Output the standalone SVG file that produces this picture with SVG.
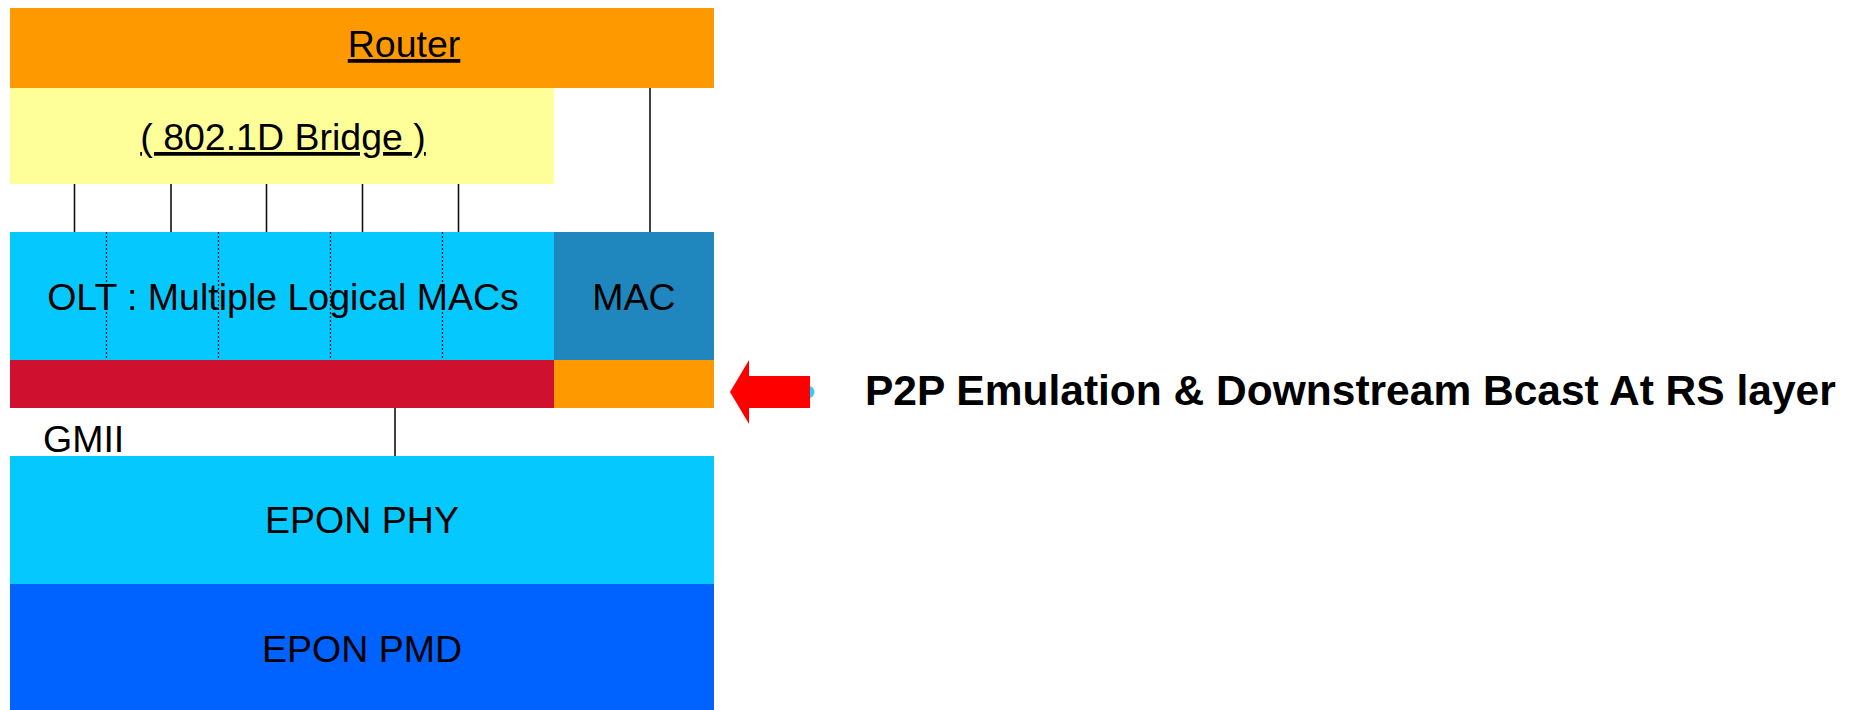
<svg xmlns="http://www.w3.org/2000/svg" width="1858" height="710" viewBox="0 0 1858 710">
<style>
text{font-family:"Liberation Sans",Arial,sans-serif;fill:#000}
.t{font-size:37.5px;text-anchor:middle}
.u{text-decoration:underline}
.conn{stroke:#111;stroke-width:1.6;fill:none}
.dot{stroke:#111;stroke-width:1.2;stroke-dasharray:2 2;fill:none}
.big{font-size:42.5px;font-weight:bold}
</style>
<rect width="1858" height="710" fill="#fff"/>
<g id="router"><rect x="10" y="8" width="704" height="80" fill="#FF9900"/><text class="t u" x="404" y="57">Router</text></g>
<g id="bridge"><rect x="10" y="88" width="544" height="96" fill="#FFFF99"/><text class="t u" x="283" y="150">( 802.1D Bridge )</text></g>
<g id="olt"><rect x="10" y="232" width="544" height="128" fill="#05C8FF"/>
<line class="dot" x1="106.5" y1="232" x2="106.5" y2="360"/><line class="dot" x1="218.5" y1="232" x2="218.5" y2="360"/><line class="dot" x1="330.5" y1="232" x2="330.5" y2="360"/><line class="dot" x1="442.5" y1="232" x2="442.5" y2="360"/>
<text class="t" x="283" y="310">OLT : Multiple Logical MACs</text></g>
<g id="mac"><rect x="554" y="232" width="160" height="128" fill="#2087BE"/><text class="t" x="634" y="310">MAC</text></g>
<g id="rs-olt"><rect x="10" y="360" width="544" height="48" fill="#CF102E"/></g>
<g id="rs-mac"><rect x="554" y="360" width="160" height="48" fill="#FF9900"/></g>
<g id="gmii"><text x="43" y="452" style="font-size:37.5px">GMII</text></g>
<g id="phy"><rect x="10" y="456" width="704" height="128" fill="#05C8FF"/><text class="t" x="362" y="533">EPON PHY</text></g>
<g id="pmd"><rect x="10" y="584" width="704" height="126" fill="#0062FF"/><text class="t" x="362" y="662">EPON PMD</text></g>
<g id="connectors">
<line class="conn" x1="74.5" y1="184" x2="74.5" y2="232"/>
<line class="conn" x1="171" y1="184" x2="171" y2="232"/>
<line class="conn" x1="266.5" y1="184" x2="266.5" y2="232"/>
<line class="conn" x1="362.5" y1="184" x2="362.5" y2="232"/>
<line class="conn" x1="458.5" y1="184" x2="458.5" y2="232"/>
<line class="conn" x1="650" y1="88" x2="650" y2="232"/>
<line class="conn" x1="395" y1="408" x2="395" y2="456"/>
</g>
<g id="note">
<circle cx="808" cy="392" r="6.5" fill="#33CCFF"/>
<polygon points="730,392 749,360 749,376 810,376 810,408 749,408 749,424" fill="#FF0000"/>
<text class="big" x="865" y="405">P2P Emulation &amp; Downstream Bcast At RS layer</text>
</g>
</svg>
